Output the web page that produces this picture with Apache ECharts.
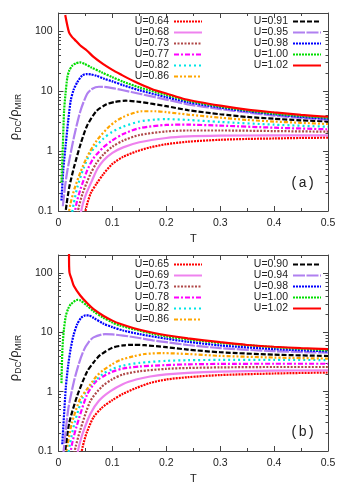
<!DOCTYPE html>
<html>
<head>
<meta charset="utf-8">
<script src="https://cdn.jsdelivr.net/npm/echarts@6/dist/echarts.min.js"></script>
<style>
html, body { margin: 0; padding: 0; background: #fff; }
#chart { width: 346px; height: 485px; }
</style>
</head>
<body>
<div id="chart"></div>
<script>
// legend labels for the two panels
const uA = ['U=0.64', 'U=0.68', 'U=0.73', 'U=0.77', 'U=0.82', 'U=0.86', 'U=0.91', 'U=0.95', 'U=0.98', 'U=1.00', 'U=1.02'];
const uB = ['U=0.65', 'U=0.69', 'U=0.73', 'U=0.78', 'U=0.82', 'U=0.86', 'U=0.90', 'U=0.94', 'U=0.98', 'U=1.00', 'U=1.02'];

// y tick values (log axis)
const yMajor = [0.1, 1, 10, 100];
const yMinor = [0.2, 0.3, 0.4, 0.5, 0.6, 0.7, 0.8, 0.9, 2, 3, 4, 5, 6, 7, 8, 9, 20, 30, 40, 50, 60, 70, 80, 90];

// panel (a) curves, [T, rho_DC/rho_MIR]
const a064 = [[0.048,0.08],[0.052,0.12],[0.06,0.2],[0.07,0.28],[0.083,0.41],[0.1,0.61],[0.12,0.8],[0.144,0.98],[0.17,1.15],[0.2,1.3],[0.24,1.43],[0.3,1.54],[0.35,1.59],[0.4,1.62],[0.45,1.65],[0.5,1.67]];
const a068 = [[0.04,0.08],[0.045,0.13],[0.052,0.2],[0.062,0.32],[0.072,0.5],[0.083,0.69],[0.1,0.93],[0.12,1.15],[0.15,1.4],[0.2,1.65],[0.24,1.75],[0.3,1.8],[0.4,1.82],[0.5,1.82]];
const a073 = [[0.034,0.08],[0.038,0.12],[0.045,0.2],[0.059,0.41],[0.07,0.62],[0.083,0.87],[0.1,1.18],[0.12,1.49],[0.15,1.85],[0.2,2.12],[0.24,2.2],[0.3,2.2],[0.4,2.15],[0.5,2.1]];
const a077 = [[0.029,0.08],[0.033,0.13],[0.04,0.22],[0.053,0.47],[0.065,0.76],[0.083,1.15],[0.1,1.5],[0.12,1.92],[0.15,2.4],[0.2,2.72],[0.24,2.75],[0.3,2.65],[0.4,2.45],[0.5,2.3]];
const a082 = [[0.024,0.08],[0.028,0.13],[0.035,0.25],[0.047,0.53],[0.06,0.95],[0.083,1.6],[0.1,2.1],[0.12,2.55],[0.15,3.1],[0.18,3.35],[0.2,3.4],[0.24,3.3],[0.3,3.05],[0.4,2.75],[0.5,2.54]];
const a086 = [[0.018,0.08],[0.022,0.13],[0.03,0.24],[0.041,0.45],[0.053,0.8],[0.071,1.5],[0.0956,2.64],[0.12,3.7],[0.155,4.6],[0.18,4.6],[0.2,4.45],[0.24,4.05],[0.3,3.6],[0.35,3.3],[0.4,3.1],[0.45,2.95],[0.5,2.82]];
const a091 = [[0.012,0.08],[0.015,0.13],[0.02,0.25],[0.0286,0.53],[0.041,1.31],[0.053,2.64],[0.071,4.7],[0.089,6.0],[0.105,6.6],[0.125,6.9],[0.15,6.6],[0.2,5.6],[0.24,4.8],[0.3,4.1],[0.35,3.7],[0.4,3.45],[0.45,3.25],[0.5,3.12]];
const a095 = [[0.008,0.12],[0.012,0.25],[0.0164,0.47],[0.0286,1.69],[0.0408,4.7],[0.053,8.9],[0.062,10.8],[0.075,11.8],[0.085,11.7],[0.1,11.2],[0.12,10.3],[0.15,9.0],[0.2,7.2],[0.24,6.0],[0.3,5.0],[0.35,4.4],[0.4,3.9],[0.45,3.55],[0.5,3.32]];
const a098 = [[0.0055,0.15],[0.009,0.5],[0.0135,1.3],[0.018,3.2],[0.0226,6.9],[0.028,10.5],[0.0347,13.9],[0.044,18.2],[0.053,19.2],[0.06,19],[0.07,18],[0.085,16],[0.1,14.5],[0.12,12.5],[0.15,10.3],[0.2,7.9],[0.24,6.5],[0.3,5.3],[0.35,4.6],[0.4,4.1],[0.45,3.7],[0.5,3.45]];
const a100 = [[0.0055,0.3],[0.008,1.2],[0.0104,4.7],[0.013,9],[0.0164,16.9],[0.02,22],[0.0256,26.5],[0.032,29],[0.04,30],[0.048,28.5],[0.06,25],[0.08,20.5],[0.1,17],[0.12,14.3],[0.15,11.5],[0.2,8.6],[0.24,6.9],[0.3,5.5],[0.35,4.75],[0.4,4.2],[0.45,3.85],[0.5,3.59]];
const a102 = [[0.0125,185],[0.0195,95],[0.025,80],[0.03,72],[0.04,58],[0.053,47],[0.065,37],[0.083,28],[0.1,22.5],[0.114,19.2],[0.14,14.5],[0.175,10.6],[0.2,9.1],[0.235,7.3],[0.3,5.7],[0.35,4.9],[0.4,4.4],[0.45,4.0],[0.5,3.73]];

// panel (b) curves
const b065 = [[0.041,0.08],[0.045,0.12],[0.052,0.2],[0.065,0.37],[0.08,0.53],[0.1,0.72],[0.12,0.92],[0.144,1.15],[0.17,1.4],[0.2,1.6],[0.24,1.75],[0.3,1.9],[0.4,2.02],[0.5,2.1]];
const b069 = [[0.034,0.08],[0.038,0.12],[0.045,0.2],[0.059,0.42],[0.075,0.7],[0.095,1.0],[0.12,1.35],[0.144,1.6],[0.17,1.8],[0.2,1.95],[0.24,2.07],[0.3,2.17],[0.4,2.25],[0.5,2.28]];
const b073 = [[0.028,0.08],[0.032,0.12],[0.04,0.22],[0.059,0.69],[0.08,1.2],[0.1,1.62],[0.12,1.95],[0.15,2.2],[0.2,2.42],[0.24,2.5],[0.3,2.56],[0.4,2.6],[0.5,2.6]];
const b078 = [[0.021,0.08],[0.025,0.13],[0.033,0.25],[0.053,0.89],[0.07,1.5],[0.085,1.85],[0.1,2.17],[0.12,2.45],[0.15,2.65],[0.2,2.8],[0.24,2.88],[0.3,2.93],[0.4,2.95],[0.5,2.95]];
const b082 = [[0.017,0.08],[0.021,0.13],[0.03,0.3],[0.045,0.8],[0.06,1.3],[0.083,2.0],[0.1,2.4],[0.12,2.75],[0.15,3.05],[0.2,3.3],[0.24,3.38],[0.3,3.42],[0.4,3.42],[0.5,3.4]];
const b086 = [[0.013,0.08],[0.017,0.13],[0.025,0.3],[0.04,0.75],[0.053,1.1],[0.07,1.8],[0.083,2.3],[0.1,2.9],[0.114,3.4],[0.14,3.95],[0.16,4.3],[0.193,4.45],[0.24,4.3],[0.3,4.0],[0.4,3.75],[0.5,3.6]];
const b090 = [[0.011,0.08],[0.0135,0.12],[0.02,0.3],[0.0347,0.85],[0.053,2.17],[0.065,3.1],[0.077,4.1],[0.1,5.5],[0.12,6.0],[0.138,6.15],[0.16,6.05],[0.2,5.6],[0.24,5.1],[0.3,4.6],[0.4,4.2],[0.5,3.98]];
const b094 = [[0.0085,0.08],[0.0104,0.12],[0.018,0.5],[0.0286,1.48],[0.038,3.0],[0.047,5.0],[0.056,6.8],[0.065,8.2],[0.0865,9.3],[0.1,9.2],[0.12,8.8],[0.15,8.0],[0.175,7.3],[0.2,6.8],[0.24,6.1],[0.3,5.4],[0.4,4.8],[0.5,4.53]];
const b098 = [[0.007,0.13],[0.0135,1.15],[0.018,2.8],[0.0226,5.3],[0.028,9],[0.0347,13.7],[0.042,17.5],[0.05,19.2],[0.056,19.2],[0.065,17.5],[0.083,14],[0.1,12.2],[0.12,10.7],[0.15,9.3],[0.2,7.8],[0.24,6.9],[0.3,6.0],[0.4,5.2],[0.5,4.76]];
const b100 = [[0.0055,1.39],[0.0073,5.3],[0.01,11],[0.0135,18.7],[0.018,25],[0.0226,29.5],[0.0347,35],[0.04,34.5],[0.053,28],[0.065,22.5],[0.083,17.6],[0.1,14.6],[0.114,13],[0.14,11.2],[0.175,9.4],[0.2,8.5],[0.24,7.6],[0.3,6.6],[0.4,5.6],[0.5,4.94]];
const b102 = [[0.0195,250],[0.0197,130],[0.0205,100],[0.024,80],[0.0286,60],[0.04,42],[0.053,31],[0.065,24.5],[0.083,19],[0.1,15.7],[0.114,13.9],[0.14,11.7],[0.175,9.8],[0.2,8.9],[0.24,7.9],[0.3,6.8],[0.35,6.1],[0.4,5.7],[0.45,5.4],[0.5,5.2]];

const curvesA = [a064, a068, a073, a077, a082, a086, a091, a095, a098, a100, a102];
const curvesB = [b065, b069, b073, b078, b082, b086, b090, b094, b098, b100, b102];

// gnuplot-ish line styles, same order in both panels
const colors = ['#ff0000', '#ee82ee', '#b04848', '#ff00ff', '#00e5e5', '#ffa500', '#000000', '#b080f0', '#0000ff', '#00dd00', '#ff0000'];
const dashes = [[2, 1], 'solid', [2, 1.5], [5, 2, 2, 2], [2, 3], [4, 2, 2, 2, 2, 2], [5, 2], [12, 1.5], [2, 1], [2, 1], 'solid'];

const FONT = 'Liberation Sans';
const TXT = '#222';
const AX = '#444';

const chart = echarts.init(document.getElementById('chart'));

const panels = [
  { top: 13, names: uA, curves: curvesA, legendTop: 16, tag: '(a)', tagTop: 176 },
  { top: 255, names: uB, curves: curvesB, legendTop: 259, tag: '(b)', tagTop: 425 }
];

const option = {
  animation: false,
  backgroundColor: '#fff',
  grid: [], xAxis: [], yAxis: [], series: [], legend: [], graphic: []
};

panels.forEach(function (p, k) {
  option.grid.push({ left: 54, top: p.top, width: 274, height: 198 });

  const xBase = {
    gridIndex: k, type: 'value', min: 0, max: 0.5, interval: 0.1,
    splitLine: { show: false },
    axisLine: { onZero: false, lineStyle: { color: AX, width: 1 } },
    axisTick: { inside: true, length: 5, lineStyle: { color: AX } },
    minorTick: { show: true, splitNumber: 2, length: 3, lineStyle: { color: AX } }
  };
  option.xAxis.push(Object.assign({}, xBase, {
    position: 'bottom',
    name: 'T', nameLocation: 'middle', nameGap: 22,
    nameTextStyle: { fontSize: 11, color: TXT, fontFamily: FONT },
    axisLabel: { fontSize: 10.5, color: TXT, fontFamily: FONT, margin: 7 }
  }));
  option.xAxis.push(Object.assign({}, xBase, { position: 'top', axisLabel: { show: false } }));

  const yBase = {
    gridIndex: k, type: 'log', logBase: 10, min: 0.1, max: 200,
    splitLine: { show: false }
  };
  // left, with labels
  option.yAxis.push(Object.assign({}, yBase, {
    position: 'left',
    name: '{r|ρ}{s|DC}{r|/ρ}{s|MIR}', nameLocation: 'middle', nameGap: 35,
    nameTextStyle: {
      color: TXT, fontFamily: FONT, padding: [0, 10, 0, 0],
      rich: {
        r: { fontSize: 13, color: TXT, fontFamily: FONT, lineHeight: 18, verticalAlign: 'middle' },
        s: { fontSize: 8.5, color: TXT, fontFamily: FONT, lineHeight: 18, verticalAlign: 'bottom' }
      }
    },
    axisLine: { onZero: false, lineStyle: { color: AX, width: 1 } },
    axisTick: { inside: true, length: 5, customValues: yMajor, lineStyle: { color: AX } },
    axisLabel: {
      customValues: yMajor, fontSize: 10.5, color: TXT, fontFamily: FONT, margin: 6,
      formatter: function (v) { return String(v); }
    }
  }));
  option.yAxis.push(Object.assign({}, yBase, {
    position: 'left',
    axisLine: { show: false, onZero: false },
    axisTick: { inside: true, length: 2.5, customValues: yMinor, lineStyle: { color: AX } },
    axisLabel: { show: false }
  }));
  // right mirror
  option.yAxis.push(Object.assign({}, yBase, {
    position: 'right',
    axisLine: { onZero: false, lineStyle: { color: AX, width: 1 } },
    axisTick: { inside: true, length: 5, customValues: yMajor, lineStyle: { color: AX } },
    axisLabel: { show: false }
  }));
  option.yAxis.push(Object.assign({}, yBase, {
    position: 'right',
    axisLine: { show: false, onZero: false },
    axisTick: { inside: true, length: 2.5, customValues: yMinor, lineStyle: { color: AX } },
    axisLabel: { show: false }
  }));

  p.curves.forEach(function (d, i) {
    option.series.push({
      type: 'line', name: p.names[i],
      xAxisIndex: 2 * k, yAxisIndex: 4 * k,
      data: d,
      symbol: 'none', showSymbol: false,
      smooth: 0.25,
      lineStyle: { color: colors[i], width: 2.2, type: dashes[i] },
      itemStyle: { color: colors[i] }
    });
  });

  const legBase = {
    orient: 'vertical', align: 'right', top: p.legendTop,
    itemWidth: 28, itemHeight: 8, itemGap: 0, selectedMode: false,
    padding: 0,
    itemStyle: { opacity: 0 },
    textStyle: { fontSize: 10.5, lineHeight: 10.4, color: TXT, fontFamily: FONT }
  };
  option.legend.push(Object.assign({}, legBase, { data: p.names.slice(0, 6), right: 143 }));
  option.legend.push(Object.assign({}, legBase, { data: p.names.slice(6), right: 24 }));

  option.graphic.push({
    type: 'text', left: 290, top: p.tagTop,
    style: { text: p.tag, fontSize: 14, fontFamily: 'Liberation Mono', fill: TXT }
  });
});

chart.setOption(option);
</script>
</body>
</html>
